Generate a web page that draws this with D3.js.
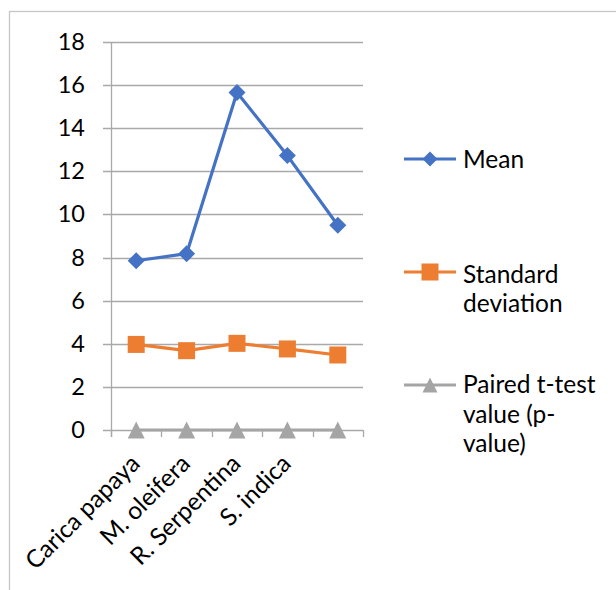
<!DOCTYPE html>
<html>
<head>
<meta charset="utf-8">
<script src="https://cdn.jsdelivr.net/npm/d3@7"></script>
<style>
  html, body { margin: 0; padding: 0; background: #fff; }
  svg { display: block; }
  text { font-family: Lato, "Open Sans", sans-serif; fill: #000; }
</style>
</head>
<body>
<svg id="chart" width="616" height="590"></svg>
<script>
const categories = ["Carica papaya", "M. oleifera", "R. Serpentina", "S. indica", ""];
const meanValues = [7.85, 8.18, 15.66, 12.73, 9.5];
const sdValues = [3.97, 3.68, 4.02, 3.76, 3.48];
const pValues = [0, 0, 0, 0, 0];
const yTicks = [0, 2, 4, 6, 8, 10, 12, 14, 16, 18];
const seriesNames = ["Mean", "Standard deviation", "Paired t-test value (p-value)"];
const legendLines = [["Mean"], ["Standard", "deviation"], ["Paired t-test", "value (p-", "value)"]];
const colors = ["#4472C4", "#ED7D31", "#A5A5A5"];

(function () {
const svg = d3.select("#chart");
const fontSize = 24.5;
const tickFontSize = 23.5;

// outer chart border
svg.append("rect").attr("x", 9.5).attr("y", 11.5).attr("width", 620).attr("height", 600)
  .attr("fill", "none").attr("stroke", "#c6c6c6").attr("stroke-width", 1.3);

const plotLeft = 111, plotRight = 363, plotTop = 42, plotBottom = 430;
const idx = d3.range(categories.length);
const x = d3.scaleBand().domain(idx).range([plotLeft, plotRight]).padding(0);
const cx = i => x(i) + x.bandwidth() / 2;
const y = d3.scaleLinear().domain([0, 18]).range([plotBottom, plotTop]);

const gridColor = "#a9a9a9";

// gridlines
svg.append("g").selectAll("line").data(yTicks).join("line")
  .attr("x1", plotLeft - 8).attr("x2", plotRight)
  .attr("y1", d => Math.round(y(d)) + 0.5).attr("y2", d => Math.round(y(d)) + 0.5)
  .attr("stroke", gridColor).attr("stroke-width", 1.3);

// y axis via d3 axis
const yAxis = d3.axisLeft(y).tickValues(yTicks).tickSize(0).tickPadding(26);
const gy = svg.append("g").attr("transform", `translate(${plotLeft},0)`).call(yAxis);
gy.select(".domain").remove();
gy.selectAll("text").style("font-size", tickFontSize + "px").style("font-family", "Lato, 'Open Sans', sans-serif").attr("fill", "#000");

// y axis line
svg.append("line").attr("x1", plotLeft + 0.5).attr("x2", plotLeft + 0.5)
  .attr("y1", plotTop).attr("y2", plotBottom + 7)
  .attr("stroke", gridColor).attr("stroke-width", 1.3);

// x axis tick marks at band boundaries
const boundaries = idx.map(i => x(i)).concat([plotRight]);
svg.append("g").selectAll("line").data(boundaries).join("line")
  .attr("x1", d => Math.round(d) + 0.5).attr("x2", d => Math.round(d) + 0.5)
  .attr("y1", plotBottom).attr("y2", plotBottom + 7)
  .attr("stroke", gridColor).attr("stroke-width", 1.3);

// x labels rotated
svg.append("g").selectAll("text").data(idx).join("text")
  .attr("transform", i => `translate(${cx(i) - 1},${plotBottom + 29}) rotate(-45)`)
  .attr("text-anchor", "end")
  .attr("dy", "0.35em")
  .style("font-size", fontSize + "px")
  .text(i => categories[i]);

// series
const seriesData = [meanValues, sdValues, pValues];
const line = d3.line().x((d, i) => cx(i)).y(d => y(d));

const markerPath = (k, s) => {
  if (k === 0) return `M0,${-s/2}L${s/2},0L0,${s/2}L${-s/2},0Z`;
  if (k === 1) return `M${-s/2},${-s/2}H${s/2}V${s/2}H${-s/2}Z`;
  return `M0,${-s/2}L${s/2},${s/2}H${-s/2}Z`;
};
const markerSize = [17, 17, 17];

seriesData.forEach((vals, k) => {
  svg.append("path").datum(vals).attr("d", line)
    .attr("fill", "none").attr("stroke", colors[k]).attr("stroke-width", 3.2)
    .attr("stroke-linejoin", "round");
});
seriesData.forEach((vals, k) => {
  svg.append("g").selectAll("path").data(vals).join("path")
    .attr("transform", (d, i) => `translate(${cx(i)},${y(d)})`)
    .attr("d", markerPath(k, markerSize[k]))
    .attr("fill", colors[k]);
});

// legend
const legendLineY = [159, 272, 385];
const legendBaselines = [[168], [283, 312], [393, 423, 452]];
const lg = svg.append("g");
legendLines.forEach((lines, k) => {
  lg.append("line").attr("x1", 404).attr("x2", 456)
    .attr("y1", legendLineY[k]).attr("y2", legendLineY[k])
    .attr("stroke", colors[k]).attr("stroke-width", 3.2);
  lg.append("path").attr("transform", `translate(430,${legendLineY[k]})`)
    .attr("d", markerPath(k, k === 1 ? 17 : 15)).attr("fill", colors[k]);
  lines.forEach((t, j) => {
    lg.append("text").attr("x", 463).attr("y", legendBaselines[k][j])
      .style("font-size", fontSize + "px").text(t);
  });
});
})();
</script>
</body>
</html>
